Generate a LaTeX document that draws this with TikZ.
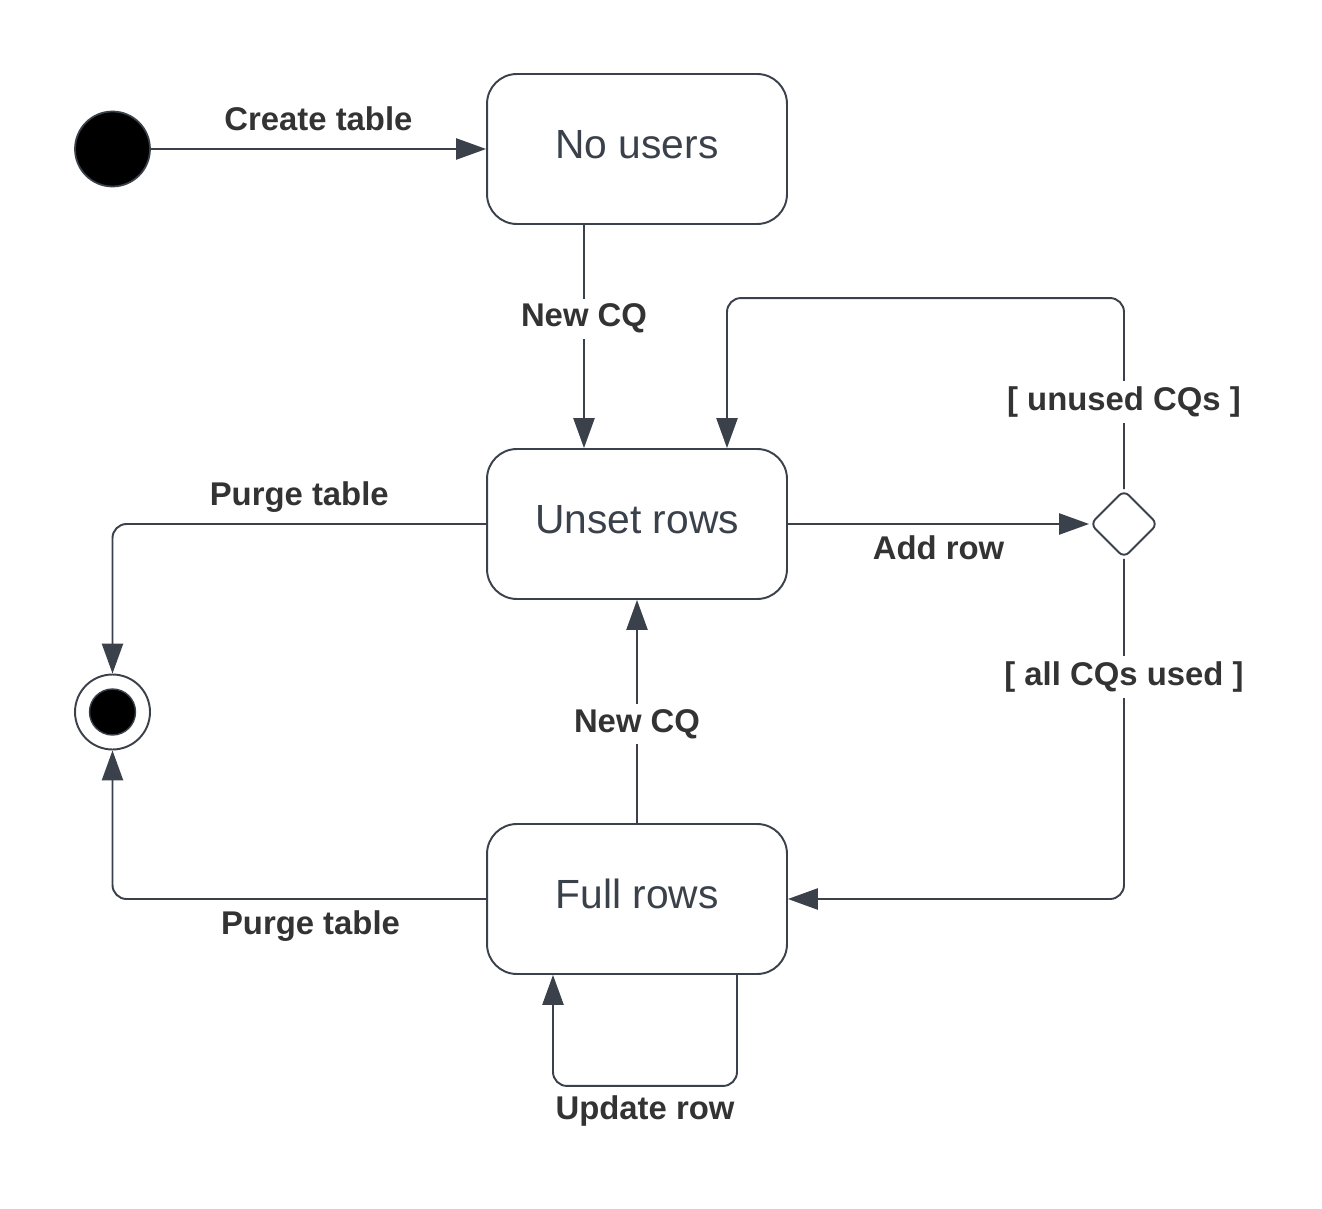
\documentclass[tikz,border=0pt]{standalone}
\usepackage{fontspec}
\setmainfont{Liberation Sans}
\usetikzlibrary{shapes.geometric,arrows.meta,calc}
\definecolor{ln}{HTML}{3A414B}
\definecolor{lbl}{HTML}{333333}
\begin{document}
\begin{tikzpicture}[x=0.02cm,y=-0.02cm,
  statebox/.style={draw=ln,line width=1.1pt,rounded corners=17pt,minimum width=6cm,minimum height=3cm,
    text=ln,font=\fontsize{23.2}{27}\selectfont,fill=white,text depth=0.2cm},
  lab/.style={font=\bfseries\fontsize{18.7}{22}\selectfont,text=lbl,inner sep=2pt},
  wlab/.style={lab,fill=white,inner sep=3pt},
  arr/.style={draw=ln,line width=1.1pt,-{Triangle[length=17pt,width=12pt]}},
  conn/.style={draw=ln,line width=1.1pt}]
\useasboundingbox (0,0) rectangle (1322,1209);
\node[circle,fill=black,draw=ln,line width=1pt,minimum size=1.5cm,inner sep=0] (init) at (112.5,149) {};
\node[statebox] (nousers) at (637,149) {No users};
\node[statebox] (unset) at (637,524) {Unset rows};
\node[statebox] (full) at (637,899) {Full rows};
\node[diamond,draw=ln,line width=1.1pt,rounded corners=4pt,minimum width=1.36cm,minimum height=1.36cm,inner sep=0,aspect=1] (dia) at (1124,524) {};
\node[circle,draw=ln,line width=1.1pt,minimum size=1.5cm,inner sep=0] (final) at (112.5,712) {};
\node[circle,fill=black,draw=ln,line width=0.8pt,minimum size=0.92cm,inner sep=0] (finalin) at (112.5,712) {};

% Create table
\draw[arr] (init.east) -- (nousers.west) node[lab,midway,above=8pt] {Create table};
% New CQ (No users -> Unset)
\draw[arr] ($(nousers.south)+(-53,0)$) -- ($(unset.north)+(-53,0)$) node[wlab,pos=0.42] {New CQ};
% Add row
\draw[arr] (unset.east) -- (dia.west) node[lab,midway,below=4pt] {Add row};
% unused CQs loop
\draw[arr,rounded corners=8pt] (dia.north) -- ++(0,-191) -| ($(unset.north)+(90,0)$);
\node[wlab] (l1) at (1124,402) {[ unused CQs ]};
% all CQs used
\draw[arr,rounded corners=8pt] (dia.south) |- (full.east);
\node[wlab] (l2) at (1124,677) {[ all CQs used ]};
% New CQ (Full -> Unset)
\draw[arr] (full.north) -- (unset.south);
\node[wlab] (l3) at (637,724) {New CQ};
% Purge table (Unset -> final)
\draw[arr,rounded corners=8pt] (unset.west) -| (final.north) node[lab,pos=0.25,above=4pt] {Purge table};
% Purge table (Full -> final)
\draw[arr,rounded corners=8pt] (full.west) -| (final.south) node[lab,pos=0.235,below=4pt] {Purge table};
% Update row
\draw[arr,rounded corners=8pt] ($(full.south)+(100,0)$) -- ++(0,111) -| ($(full.south)+(-84,0)$) node[lab,pos=0.25,below=3pt] {Update row};
\end{tikzpicture}
\end{document}
